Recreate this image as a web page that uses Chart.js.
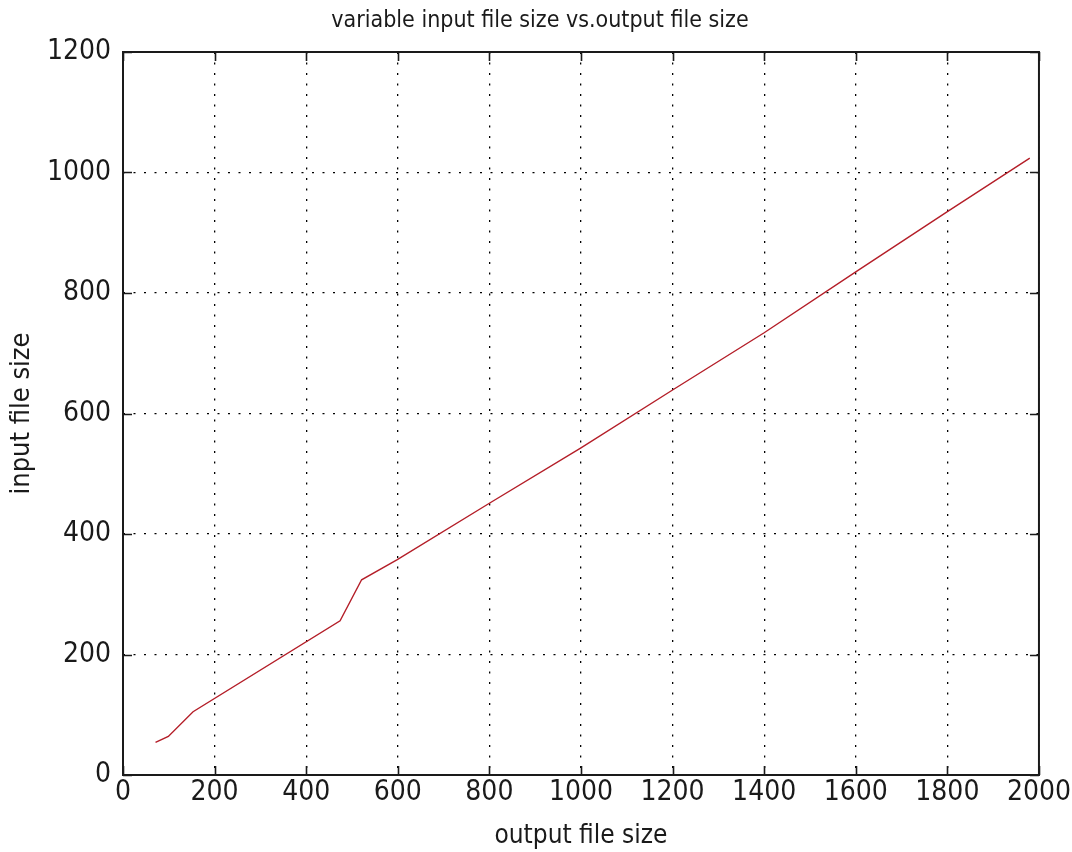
<!DOCTYPE html>
<html>
<head>
<meta charset="utf-8">
<script src="https://cdn.jsdelivr.net/npm/chart.js@4/dist/chart.umd.min.js"></script>
<style>
  html, body { margin: 0; padding: 0; background: #ffffff; }
  #wrap { width: 1072px; height: 852px; }
</style>
</head>
<body>
<div id="wrap"><canvas id="c" width="1072" height="852"></canvas></div>
<script>
// Measured sizes (output file size on x, input file size on y)
const outputSize = [71, 99, 153, 474, 521, 598, 800, 1000, 1200, 1400, 1600, 1800, 1980];
const inputSize  = [54, 64, 105, 256, 324, 357, 451, 543, 639, 734, 835, 935, 1024];

const xTicks = [0, 200, 400, 600, 800, 1000, 1200, 1400, 1600, 1800, 2000];
const yTicks = [0, 200, 400, 600, 800, 1000, 1200];

const chartTitle = 'variable input file size vs.output file size';
const xLabel = 'output file size';
const yLabel = 'input file size';

const FONT = "'DejaVu Sans Condensed', 'Liberation Sans Narrow', 'Liberation Sans', sans-serif";

const points = outputSize.map((x, i) => ({ x: x, y: inputSize[i] }));

// Axes box with inward tick marks on all four sides, plus the title line
const boxTicks = {
  id: 'boxTicks',
  afterDatasetsDraw(chart) {
    const { ctx, chartArea: a, scales } = chart;
    const len = 9;
    ctx.save();
    ctx.strokeStyle = '#1a1a1a';
    ctx.lineWidth = 1.6;
    ctx.beginPath();
    xTicks.forEach(v => {
      const px = Math.round(scales.x.getPixelForValue(v)) + 0.5;
      ctx.moveTo(px, a.bottom); ctx.lineTo(px, a.bottom - len);
      ctx.moveTo(px, a.top);    ctx.lineTo(px, a.top + len);
    });
    yTicks.forEach(v => {
      const py = Math.round(scales.y.getPixelForValue(v)) + 0.5;
      ctx.moveTo(a.left, py);  ctx.lineTo(a.left + len, py);
      ctx.moveTo(a.right, py); ctx.lineTo(a.right - len, py);
    });
    ctx.stroke();
    ctx.lineWidth = 2;
    ctx.strokeRect(a.left, a.top, a.right - a.left, a.bottom - a.top);

    ctx.fillStyle = '#1a1a1a';
    ctx.font = '23px ' + FONT;
    ctx.textAlign = 'center';
    ctx.textBaseline = 'middle';
    ctx.fillText(chartTitle, 540, 21);
    ctx.restore();
  }
};

new Chart(document.getElementById('c'), {
  type: 'line',
  data: {
    datasets: [{
      data: points,
      borderColor: 'rgb(180, 30, 40)',
      borderWidth: 1.4,
      pointRadius: 0,
      fill: false,
      tension: 0
    }]
  },
  options: {
    responsive: false,
    animation: false,
    layout: { padding: { left: 0, right: 33, top: 52, bottom: 0 } },
    plugins: {
      legend: { display: false },
      tooltip: { enabled: false },
      title: { display: false }
    },
    scales: {
      x: {
        type: 'linear',
        min: 0, max: 2000,
        afterBuildTicks: s => { s.ticks = xTicks.map(v => ({ value: v })); },
        afterFit: s => { s.height = 77; },
        ticks: {
          color: '#1a1a1a',
          font: { family: FONT, size: 28 },
          padding: 1,
          maxRotation: 0,
          autoSkip: false,
          callback: v => String(v)
        },
        grid: {
          color: '#000000',
          lineWidth: 1.3,
          drawTicks: false
        },
        border: { display: false, dash: [2, 8.5] },
        title: {
          display: true,
          text: xLabel,
          color: '#1a1a1a',
          font: { family: FONT, size: 26 },
          padding: { top: 0, bottom: 0 }
        }
      },
      y: {
        type: 'linear',
        min: 0, max: 1200,
        afterBuildTicks: s => { s.ticks = yTicks.map(v => ({ value: v })); },
        afterFit: s => { s.width = 123; },
        ticks: {
          color: '#1a1a1a',
          font: { family: FONT, size: 28 },
          padding: 12,
          autoSkip: false,
          callback: v => String(v)
        },
        grid: {
          color: '#000000',
          lineWidth: 1.3,
          drawTicks: false
        },
        border: { display: false, dash: [2, 8.5] },
        title: {
          display: true,
          text: yLabel,
          color: '#1a1a1a',
          font: { family: FONT, size: 27 },
          padding: { top: 6, bottom: 0 }
        }
      }
    }
  },
  plugins: [boxTicks]
});
</script>
</body>
</html>
